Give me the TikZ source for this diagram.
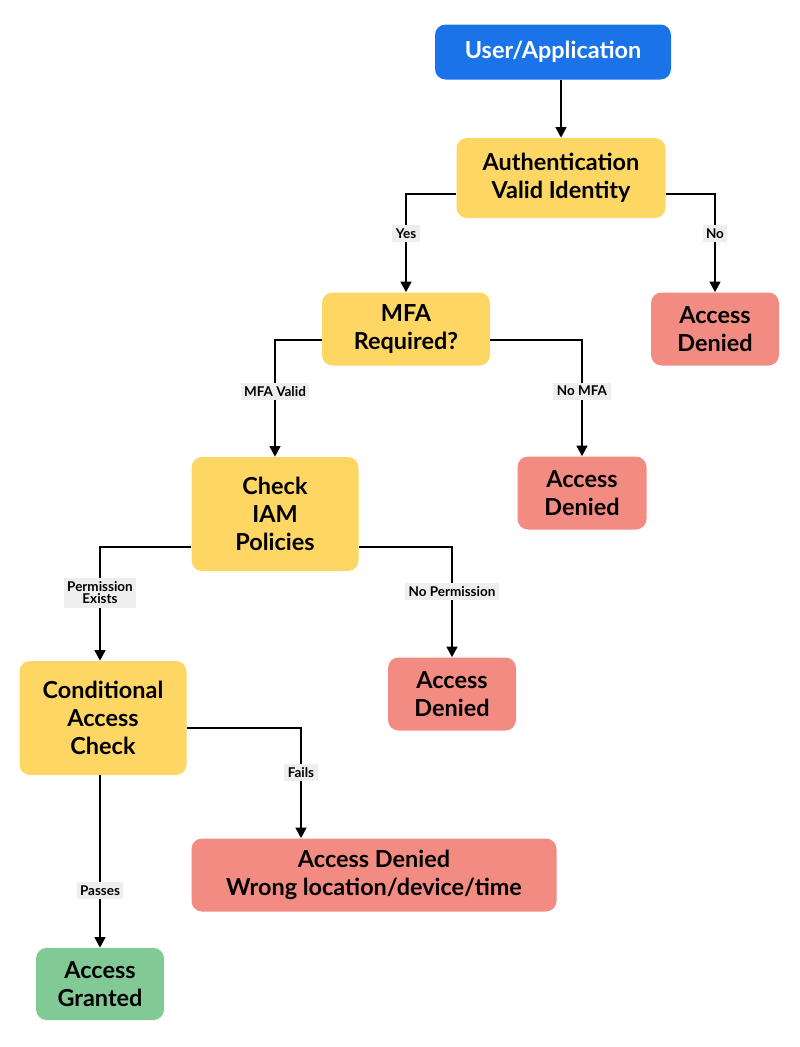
\documentclass[tikz,border=0pt]{standalone}
\usepackage{fontspec}
\setmainfont{Lato}
\usetikzlibrary{arrows.meta,calc}
\definecolor{bluebox}{HTML}{1A73E8}
\definecolor{yellowbox}{HTML}{FDD663}
\definecolor{redbox}{HTML}{F28B82}
\definecolor{greenbox}{HTML}{81C995}
\definecolor{lblgray}{HTML}{EEEEEE}
\tikzset{
  box/.style={rounded corners=9pt,align=center,inner sep=0pt,
    font=\fontsize{20}{24}\selectfont\bfseries},
  decide/.style={box,fill=yellowbox},
  denied/.style={box,fill=redbox},
  lbl/.style={fill=lblgray,align=center,inner sep=3pt,
    font=\fontsize{11.5}{13}\selectfont\bfseries},
  arr/.style={draw=black,line width=2pt,-{Triangle[length=9pt,width=9pt]}}
}
\begin{document}
\begin{tikzpicture}[x=0.3mm,y=-0.3mm]
  \useasboundingbox (0,0) rectangle (800,1047);
  % boxes
  \node[box,fill=bluebox,text=white,minimum width=236*0.3mm,minimum height=55*0.3mm] (user) at (553,52) {User/Application};
  \node[decide,minimum width=209*0.3mm,minimum height=80*0.3mm] (auth) at (561,178) {Authentication\\Valid Identity};
  \node[denied,minimum width=128*0.3mm,minimum height=73*0.3mm] (deny1) at (715,329) {Access\\Denied};
  \node[decide,minimum width=168*0.3mm,minimum height=73*0.3mm] (mfa) at (406,329) {MFA\\Required?};
  \node[denied,minimum width=129*0.3mm,minimum height=73*0.3mm] (deny2) at (582,493) {Access\\Denied};
  \node[decide,minimum width=167*0.3mm,minimum height=114*0.3mm] (iam) at (275,514) {Check\\IAM\\Policies};
  \node[denied,minimum width=128*0.3mm,minimum height=73*0.3mm] (deny3) at (452,694) {Access\\Denied};
  \node[decide,minimum width=167*0.3mm,minimum height=114*0.3mm] (cond) at (103,718) {Conditional\\Access\\Check};
  \node[denied,minimum width=365*0.3mm,minimum height=73*0.3mm] (deny4) at (374,875) {Access Denied\\Wrong location/device/time};
  \node[box,fill=greenbox,minimum width=128*0.3mm,minimum height=72*0.3mm] (grant) at (100,984) {Access\\Granted};
  % connectors
  \draw[arr] (user.south -| auth.north) -- (auth.north);
  \draw[arr] ($(auth.west)+(0,16)$) -| node[lbl,pos=0.7]{Yes} (mfa.north);
  \draw[arr] ($(auth.east)+(0,16)$) -| node[lbl,pos=0.7]{No} (deny1.north);
  \draw[arr] ($(mfa.west)+(0,11)$) -| node[lbl,pos=0.72]{MFA Valid} (iam.north);
  \draw[arr] ($(mfa.east)+(0,11)$) -| node[lbl,pos=0.72]{No MFA} (deny2.north);
  \draw[arr] ($(iam.west)+(0,33)$) -| node[lbl,pos=0.7]{Permission\\[-2pt]Exists} ($(cond.north)+(-3,0)$);
  \draw[arr] ($(iam.east)+(0,33)$) -| node[lbl,pos=0.7]{No Permission} (deny3.north);
  \draw[arr] ($(cond.east)+(0,10)$) -| node[lbl,pos=0.7]{Fails} ($(deny4.north)+(-73,0)$);
  \draw[arr] ($(cond.south)+(-3,0)$) -- node[lbl,pos=0.67]{Passes} (grant.north);
\end{tikzpicture}
\end{document}
